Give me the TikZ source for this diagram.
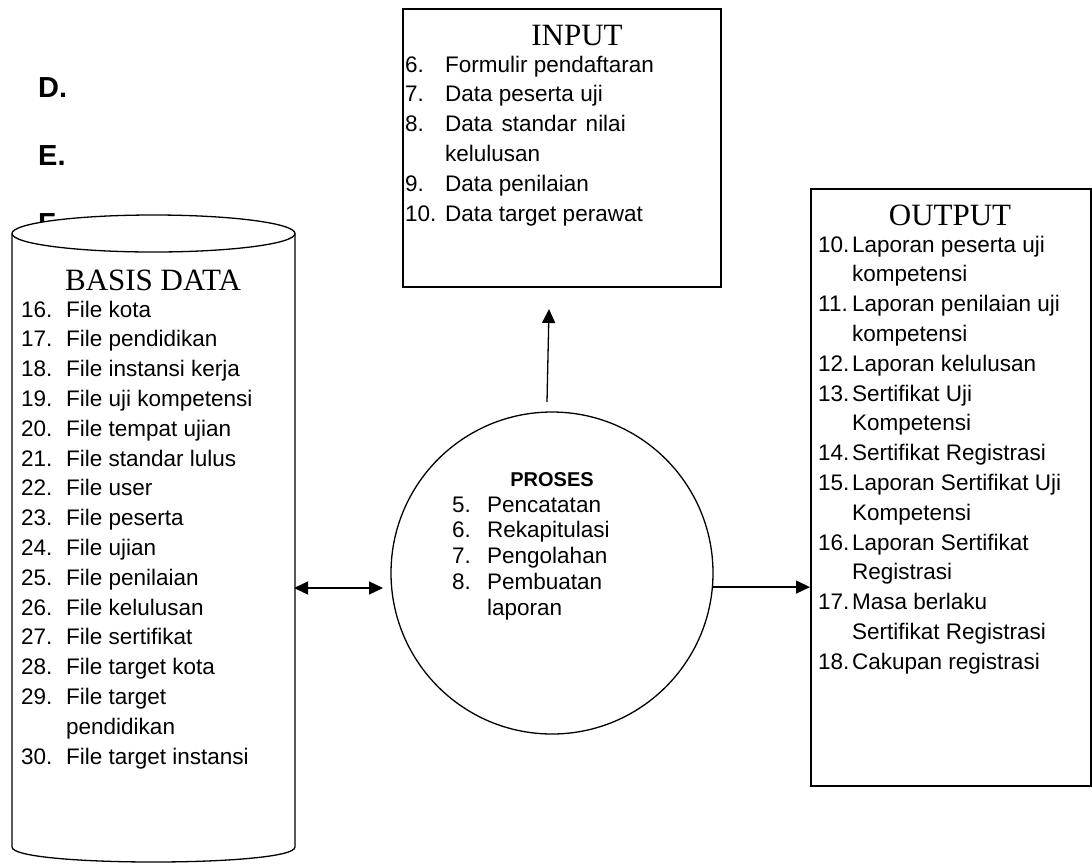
\documentclass[tikz,border=0pt]{standalone}
\usepackage{fontspec}
\setmainfont{Liberation Serif}
\newfontfamily\arialf{Liberation Sans}
\usetikzlibrary{arrows.meta}
\begin{document}
\begin{tikzpicture}[x=1pt,y=-1pt,
  heading/.style={inner sep=0pt, anchor=base, font=\fontsize{31}{31}\selectfont},
  listtext/.style={inner sep=0pt, anchor=base west, font=\arialf\fontsize{22.5}{29.8}\selectfont},
  proclist/.style={inner sep=0pt, anchor=base west, font=\arialf\fontsize{22.5}{25.8}\selectfont},
  boxline/.style={draw, line width=1.6pt, inner sep=0pt, anchor=north west},
  shapeline/.style={draw, line width=1.3pt},
  conn/.style={line width=1.3pt, -{Triangle[length=14pt,width=13pt]}},
  biconn/.style={line width=1.3pt, {Triangle[length=14pt,width=13pt]}-{Triangle[length=14pt,width=13pt]}},
  letter/.style={inner sep=0pt, anchor=base west, font=\arialf\bfseries\fontsize{29}{29}\selectfont}
]
\useasboundingbox[fill=white] (0,0) rectangle (1092,863);

% letters behind the cylinder
\node[letter] (ld) at (38,97) {D.};
\node[letter] (le) at (38,165) {E.};
\node[letter] (lf) at (38,233) {F.};

% database cylinder
\path[shapeline, fill=white] (12,233.5) -- (12,847) .. controls (12,867) and (295,867) .. (295,847) -- (295,233.5);
\path[shapeline, fill=white] (153.5,233.5) ellipse [x radius=141.5, y radius=18.5];
\coordinate (dbE) at (294,588);
\node[heading] (dbhead) at (153,290) {BASIS DATA};
\node[listtext] (dblist) at (21,317) {\begin{tabular}[t]{@{}p{45pt}@{}l@{}}
16. & File kota\\
17. & File pendidikan\\
18. & File instansi kerja\\
19. & File uji kompetensi\\
20. & File tempat ujian\\
21. & File standar lulus\\
22. & File user\\
23. & File peserta\\
24. & File ujian\\
25. & File penilaian\\
26. & File kelulusan\\
27. & File sertifikat\\
28. & File target kota\\
29. & File target\\
    & pendidikan\\
30. & File target instansi
\end{tabular}};

% input box
\node[boxline, minimum width=318, minimum height=278] (inbox) at (402,8) {};
\node[heading] (inhead) at (577,45) {INPUT};
\node[listtext] (inlist) at (405,72) {\begin{tabular}[t]{@{}p{40pt}@{}l@{}}
6. & Formulir pendaftaran\\
7. & Data peserta uji\\
8. & Data\hspace{9pt}standar\hspace{9pt}nilai\\
   & kelulusan\\
9. & Data penilaian\\
10.& Data target perawat
\end{tabular}};

% output box
\node[boxline, minimum width=280, minimum height=597] (outbox) at (810,188) {};
\node[heading] (outhead) at (950,225) {OUTPUT};
\node[listtext] (outlist) at (818,252) {\begin{tabular}[t]{@{}p{34pt}@{}l@{}}
10.& Laporan peserta uji\\
   & kompetensi\\
11.& Laporan penilaian uji\\
   & kompetensi\\
12.& Laporan kelulusan\\
13.& Sertifikat Uji\\
   & Kompetensi\\
14.& Sertifikat Registrasi\\
15.& Laporan Sertifikat Uji\\
   & Kompetensi\\
16.& Laporan Sertifikat\\
   & Registrasi\\
17.& Masa berlaku\\
   & Sertifikat Registrasi\\
18.& Cakupan registrasi
\end{tabular}};

% process circle
\node[circle, shapeline, minimum size=322, inner sep=0pt] (proc) at (552,573) {};
\node[inner sep=0pt, anchor=base, font=\arialf\bfseries\fontsize{20}{20}\selectfont] (prochead) at (552,486) {PROSES};
\node[proclist] (proclst) at (452,512) {\begin{tabular}[t]{@{}p{35pt}@{}l@{}}
5. & Pencatatan\\
6. & Rekapitulasi\\
7. & Pengolahan\\
8. & Pembuatan\\
   & laporan
\end{tabular}};

% connectors
\coordinate (procL) at (383,588);
\coordinate (upS) at (547,402);
\coordinate (upE) at (549,309);
\draw[biconn] (dbE) -- (procL);
\draw[conn] (proc.-5.35) -- (proc.-5.35 -| outbox.west);
\draw[conn] (upS) -- (upE);
\end{tikzpicture}
\end{document}
